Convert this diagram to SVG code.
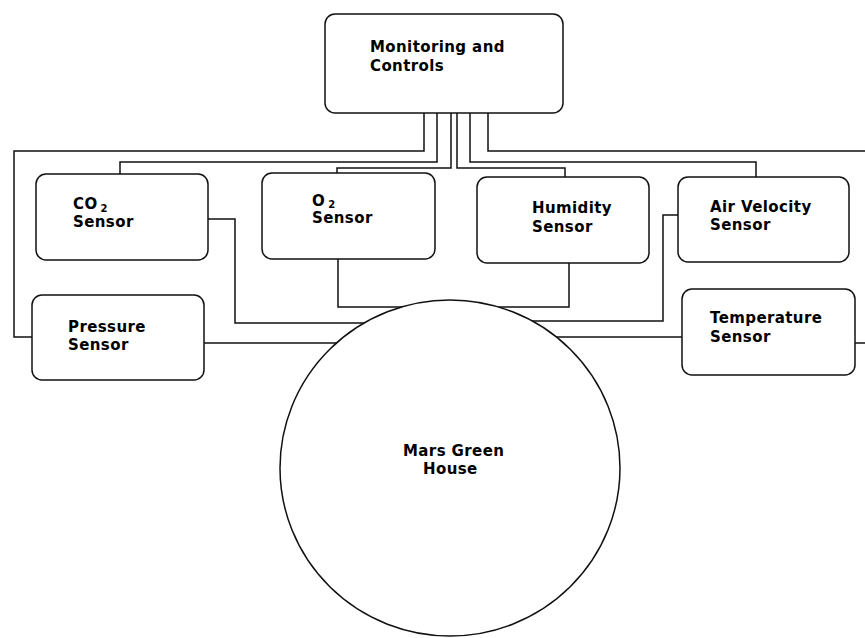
<svg xmlns="http://www.w3.org/2000/svg" width="865" height="638" viewBox="0 0 865 638">
<style>
.box{fill:#fff;stroke:#111;stroke-width:1.5}
.wire{fill:none;stroke:#111;stroke-width:1.5}
.t{font-family:"DejaVu Sans",Verdana,sans-serif;font-weight:bold;font-size:15px;letter-spacing:0.4px;fill:#000}
.sub{font-size:10px}
</style>
<rect width="865" height="638" fill="#fff"/>
<g id="connectors">
<path class="wire" d="M424,113 V151 H14 V337 H32"/>
<path class="wire" d="M488,113 V151 H865"/>
<path class="wire" d="M437,113 V162 H120 V174"/>
<path class="wire" d="M470,113 V162 H756 V177"/>
<path class="wire" d="M451,113 V168 H337 V173"/>
<path class="wire" d="M457,113 V168 H565 V177"/>
<path class="wire" d="M208,219 H235 V323 H420"/>
<path class="wire" d="M204,343 H400"/>
<path class="wire" d="M338,259 V307 H569 V263"/>
<path class="wire" d="M678,215 H663 V321 H500"/>
<path class="wire" d="M682,337 H520"/>
<path class="wire" d="M855,343 H865"/>
</g>
<g id="monitoring">
<rect class="box" x="325" y="14" width="238" height="99" rx="10"/>
<text class="t" x="370" y="52">Monitoring and</text>
<text class="t" x="370" y="71">Controls</text>
</g>
<g id="co2">
<rect class="box" x="36" y="174" width="172" height="86" rx="10"/>
<text class="t" x="73" y="209">CO<tspan class="sub" dx="3" dy="3">2</tspan></text>
<text class="t" x="73" y="227">Sensor</text>
</g>
<g id="o2">
<rect class="box" x="262" y="173" width="173" height="86" rx="10"/>
<text class="t" x="312" y="206">O<tspan class="sub" dx="3" dy="2">2</tspan></text>
<text class="t" x="312" y="223">Sensor</text>
</g>
<g id="humidity">
<rect class="box" x="477" y="177" width="172" height="86" rx="10"/>
<text class="t" x="532" y="213">Humidity</text>
<text class="t" x="532" y="232">Sensor</text>
</g>
<g id="airvelocity">
<rect class="box" x="678" y="177" width="171" height="85" rx="10"/>
<text class="t" x="710" y="212">Air Velocity</text>
<text class="t" x="710" y="230">Sensor</text>
</g>
<g id="pressure">
<rect class="box" x="32" y="295" width="172" height="85" rx="10"/>
<text class="t" x="68" y="332">Pressure</text>
<text class="t" x="68" y="350">Sensor</text>
</g>
<g id="temperature">
<rect class="box" x="682" y="289" width="173" height="86" rx="10"/>
<text class="t" x="710" y="323">Temperature</text>
<text class="t" x="710" y="342">Sensor</text>
</g>
<g id="greenhouse">
<ellipse class="box" cx="450" cy="468" rx="170" ry="168"/>
<text class="t" x="403" y="456">Mars Green</text>
<text class="t" x="423" y="474">House</text>
</g>
</svg>
